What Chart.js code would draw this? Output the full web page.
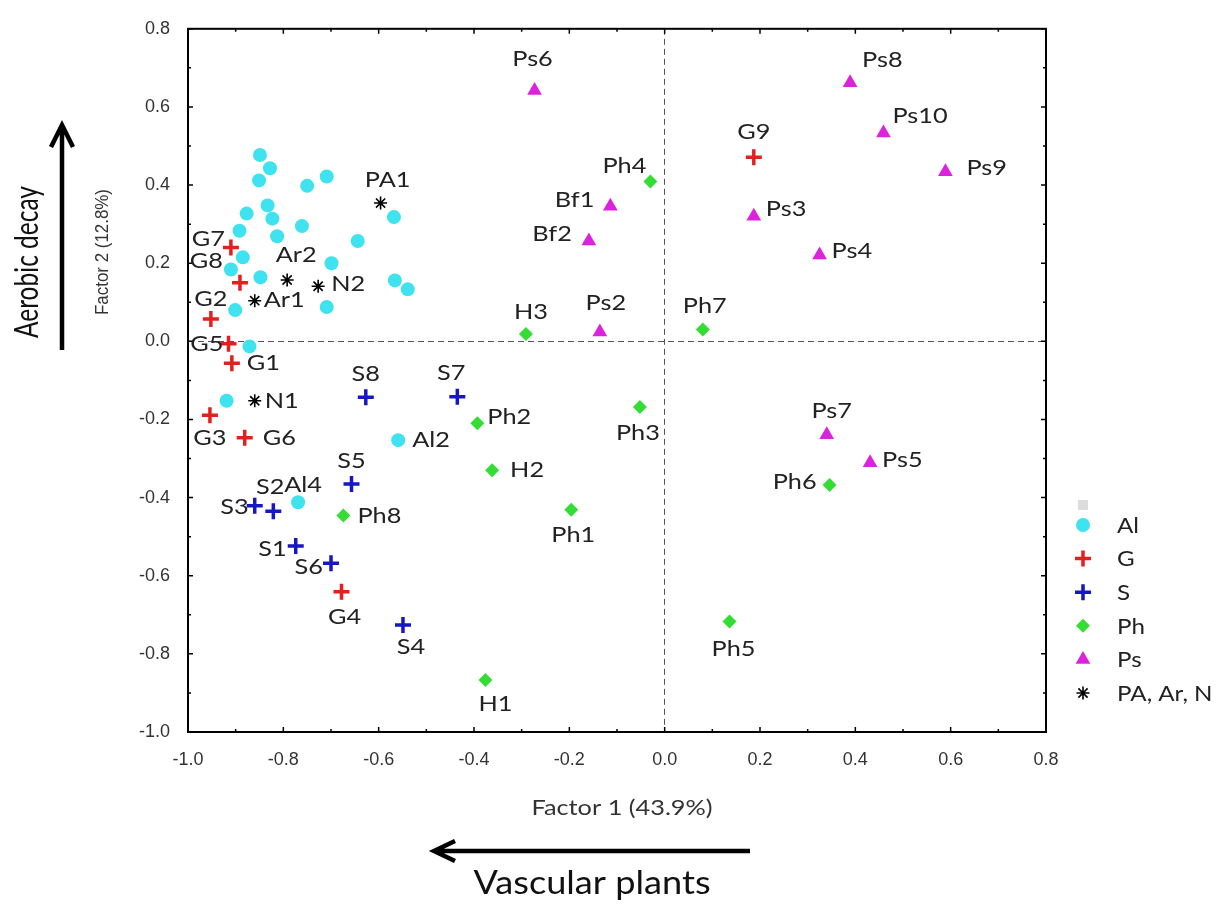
<!DOCTYPE html>
<html lang="en">
<head>
  <meta charset="UTF-8" />
  <title>Factor 1 vs Factor 2</title>
  <script src="https://cdn.jsdelivr.net/npm/chart.js"></script>
  <style>
    html, body { margin: 0; padding: 0; background: #fff; }
    #wrap { width: 1225px; height: 907px; position: relative; }
  </style>
</head>
<body>
<div id="wrap"><canvas id="pca"></canvas></div>
<script>
// axis ranges
const xRange = [-1.0, 0.8];
const yRange = [-1.0, 0.8];
const tickStep = 0.2;

// Al (only two are named)
const alNames = ['', '', '', '', '', '', '', '', '', '', '', '', '', '', '', '', '', '', '', '', '', '', '', 'Al2', 'Al4'];
const alX = [-0.849, -0.828, -0.851, -0.750, -0.709, -0.833, -0.877, -0.823, -0.761, -0.892, -0.813, -0.644, -0.568,
             -0.885, -0.699, -0.910, -0.848, -0.566, -0.539, -0.709, -0.901, -0.871, -0.919, -0.559, -0.769];
const alY = [0.477, 0.443, 0.412, 0.398, 0.422, 0.348, 0.327, 0.314, 0.295, 0.283, 0.269, 0.257, 0.318,
             0.215, 0.200, 0.184, 0.164, 0.156, 0.133, 0.088, 0.080, -0.013, -0.152, -0.253, -0.412];

// G
const gNames = ['G1', 'G2', 'G3', 'G4', 'G5', 'G6', 'G7', 'G8', 'G9'];
const gX = [-0.908, -0.952, -0.954, -0.678, -0.915, -0.881, -0.910, -0.891, 0.187];
const gY = [-0.056, 0.057, -0.189, -0.641, -0.006, -0.247, 0.240, 0.150, 0.471];

// S
const sNames = ['S1', 'S2', 'S3', 'S4', 'S5', 'S6', 'S7', 'S8'];
const sX = [-0.774, -0.821, -0.860, -0.549, -0.657, -0.700, -0.435, -0.627];
const sY = [-0.524, -0.435, -0.421, -0.726, -0.365, -0.568, -0.142, -0.143];

// Ph (with H)
const phNames = ['Ph1', 'Ph2', 'Ph3', 'Ph4', 'Ph5', 'Ph6', 'Ph7', 'Ph8', 'H1', 'H2', 'H3'];
const phX = [-0.196, -0.393, -0.052, -0.030, 0.136, 0.346, 0.080, -0.674, -0.376, -0.362, -0.291];
const phY = [-0.431, -0.210, -0.168, 0.409, -0.717, -0.368, 0.030, -0.446, -0.867, -0.330, 0.019];

// Ps (with Bf)
const psNames = ['Ps2', 'Ps3', 'Ps4', 'Ps5', 'Ps6', 'Ps7', 'Ps8', 'Ps9', 'Ps10', 'Bf1', 'Bf2'];
const psX = [-0.136, 0.187, 0.325, 0.431, -0.273, 0.340, 0.389, 0.589, 0.459, -0.114, -0.159];
const psY = [0.024, 0.320, 0.221, -0.311, 0.642, -0.239, 0.662, 0.434, 0.533, 0.346, 0.257];

// PA, Ar, N
const oNames = ['PA1', 'Ar1', 'Ar2', 'N1', 'N2'];
const oX = [-0.596, -0.860, -0.792, -0.860, -0.727];
const oY = [0.354, 0.104, 0.157, -0.152, 0.141];

// label placement: [align, dx, dy]  (l = text starts right of point, r = text ends left of point, c = centred)
const alPlace = alNames.map(n => n === 'Al2' ? ['l', 14, 0] : n === 'Al4' ? ['c', 5, -17] : null);
const gPlace = [['l', 15, 0], ['c', 0, -20], ['c', 0, 23], ['c', 3, 25], ['r', -5, 0], ['l', 18, 0], ['r', -6, -9], ['r', -17, -22], ['c', 0, -25]];
const sPlace = [['r', -9, 3], ['c', -3, -24], ['r', -6, 1], ['c', 8, 22], ['c', 0, -23], ['r', -8, 4], ['c', -6, -24], ['c', 0, -23]];
const phPlace = [['c', 2, 25], ['l', 10, -6], ['c', -2, 26], ['r', -4, -16], ['c', 4, 27], ['r', -13, -3], ['c', 2, -24], ['l', 14, 0], ['c', 10, 24], ['l', 18, 0], ['c', 5, -22]];
const psPlace = [['c', 6, -29], ['l', 12, -7], ['l', 12, -4], ['l', 12, -3], ['c', -2, -32], ['c', 5, -24], ['l', 12, -23], ['l', 21, -4], ['l', 9, -17], ['r', -16, -6], ['r', -17, -7]];
const oPlace = [['c', 7, -23], ['l', 9, -1], ['c', 9, -25], ['l', 10, 0], ['l', 13, -2]];

const pts = (xs, ys) => xs.map((x, i) => ({ x: x, y: ys[i] }));

const isZero = v => Math.abs(v) < 1e-9;
const fmt = v => isZero(v) ? '0.0' : v.toFixed(1);

// the source picture is a little wider than tall, so text is stretched sideways
const STRETCH = 1.15;
function wideText(ctx, text, x, y, align, sx) {
  ctx.save();
  ctx.translate(x, y);
  ctx.scale(sx || STRETCH, 1);
  ctx.textAlign = align;
  ctx.fillText(text, 0, 0);
  ctx.restore();
}

// names next to the points
const pointLabels = {
  id: 'pointLabels',
  afterDatasetsDraw(chart) {
    const ctx = chart.ctx;
    ctx.save();
    ctx.font = '22px Lato';
    ctx.fillStyle = '#222';
    ctx.textBaseline = 'middle';
    chart.data.datasets.forEach((ds, di) => {
      if (!ds.names) return;
      chart.getDatasetMeta(di).data.forEach((pt, i) => {
        const name = ds.names[i];
        const p = ds.place[i];
        if (!name || !p) return;
        const align = p[0] === 'l' ? 'left' : p[0] === 'r' ? 'right' : 'center';
        wideText(ctx, name, pt.x + p[1], pt.y + p[2], align);
      });
    });
    ctx.restore();
  }
};

// box round the plot with inward ticks on all four sides
const frame = {
  id: 'frame',
  beforeDatasetsDraw(chart) {
    const { ctx, chartArea: a, scales } = chart;
    ctx.save();
    ctx.strokeStyle = '#000';
    ctx.lineWidth = 2;
    ctx.strokeRect(a.left, a.top, a.right - a.left, a.bottom - a.top);
    ctx.lineWidth = 1.5;
    ctx.beginPath();
    for (let i = -10; i <= 8; i++) {
      const len = i % 2 === 0 ? 5 : 3;
      const px = scales.x.getPixelForValue(i / 10);
      const py = scales.y.getPixelForValue(i / 10);
      ctx.moveTo(px, a.bottom); ctx.lineTo(px, a.bottom - len);
      ctx.moveTo(px, a.top); ctx.lineTo(px, a.top + len);
      ctx.moveTo(a.left, py); ctx.lineTo(a.left + len, py);
      ctx.moveTo(a.right, py); ctx.lineTo(a.right - len, py);
    }
    ctx.stroke();
    ctx.restore();
  }
};

// legend on the right
const sideLegend = {
  id: 'sideLegend',
  afterDraw(chart) {
    const ctx = chart.ctx;
    const mx = 1083, tx = 1117;
    ctx.save();
    ctx.font = '21px Lato';
    ctx.textBaseline = 'middle';
    let y = 505;
    chart.data.datasets.forEach((ds, di) => {
      ctx.fillStyle = ds.backgroundColor;
      ctx.strokeStyle = ds.borderColor;
      ctx.lineWidth = ds.borderWidth;
      Chart.helpers.drawPoint(ctx, {
        pointStyle: ds.pointStyle,
        radius: ds.pointRadius,
        borderWidth: ds.borderWidth,
        rotation: 0
      }, mx, y);
      ctx.fillStyle = '#222';
      wideText(ctx, ds.label, tx, y + 1, 'left');
      y += di === 0 ? 20 : 33.6;
    });
    ctx.restore();
  }
};

// axis titles, big arrows and their captions
const captions = {
  id: 'captions',
  afterDraw(chart) {
    const ctx = chart.ctx;
    ctx.save();
    ctx.textBaseline = 'middle';
    ctx.fillStyle = '#333';

    ctx.font = '22px Lato';
    wideText(ctx, 'Factor 1 (43.9%)', 622, 808, 'center');

    ctx.save();
    ctx.translate(103, 252);
    ctx.rotate(-Math.PI / 2);
    ctx.font = '18px "Liberation Sans"';
    ctx.textAlign = 'center';
    ctx.fillText('Factor 2 (12.8%)', 0, 0, 126);
    ctx.restore();

    ctx.strokeStyle = '#000';
    ctx.fillStyle = '#111';
    ctx.lineWidth = 4.5;
    // vertical arrow
    ctx.beginPath();
    ctx.moveTo(62, 350); ctx.lineTo(62, 126);
    ctx.moveTo(51, 147); ctx.lineTo(62, 125); ctx.lineTo(73, 147);
    ctx.stroke();
    // horizontal arrow
    ctx.beginPath();
    ctx.moveTo(750, 851); ctx.lineTo(435, 851);
    ctx.moveTo(455, 841); ctx.lineTo(434, 851); ctx.lineTo(455, 861);
    ctx.stroke();

    ctx.font = '32px Lato';
    wideText(ctx, 'Vascular plants', 592, 884, 'center', 1.13);
    ctx.save();
    ctx.translate(28, 262);
    ctx.rotate(-Math.PI / 2);
    ctx.textAlign = 'center';
    ctx.fillText('Aerobic decay', 0, 0, 152);
    ctx.restore();
    ctx.restore();
  }
};

const zeroGrid = {
  drawTicks: false,
  lineWidth: 1,
  color: c => (c.tick && isZero(c.tick.value)) ? '#555' : 'rgba(0,0,0,0)'
};

new Chart(document.getElementById('pca'), {
  type: 'scatter',
  data: {
    datasets: [
      { label: '', data: [], pointStyle: 'rect', pointRadius: 7, backgroundColor: '#dcdcdc', borderColor: '#dcdcdc', borderWidth: 0 },
      { label: 'Al', data: pts(alX, alY), names: alNames, place: alPlace, pointStyle: 'circle', pointRadius: 7,
        backgroundColor: '#3fe2ef', borderColor: '#3fe2ef', borderWidth: 0 },
      { label: 'G', data: pts(gX, gY), names: gNames, place: gPlace, pointStyle: 'cross', pointRadius: 8,
        backgroundColor: '#e3201e', borderColor: '#e3201e', borderWidth: 3.5 },
      { label: 'S', data: pts(sX, sY), names: sNames, place: sPlace, pointStyle: 'cross', pointRadius: 8,
        backgroundColor: '#1616c4', borderColor: '#1616c4', borderWidth: 3.5 },
      { label: 'Ph', data: pts(phX, phY), names: phNames, place: phPlace, pointStyle: 'rectRot', pointRadius: 7,
        backgroundColor: '#33dd33', borderColor: '#33dd33', borderWidth: 0 },
      { label: 'Ps', data: pts(psX, psY), names: psNames, place: psPlace, pointStyle: 'triangle', pointRadius: 8.5,
        backgroundColor: '#dc22dc', borderColor: '#dc22dc', borderWidth: 0 },
      { label: 'PA, Ar, N', data: pts(oX, oY), names: oNames, place: oPlace, pointStyle: 'star', pointRadius: 6.5,
        backgroundColor: '#000', borderColor: '#000', borderWidth: 1.6 }
    ]
  },
  options: {
    responsive: true,
    maintainAspectRatio: false,
    animation: false,
    layout: { padding: { left: 0, right: 179, top: 19, bottom: 0 } },
    plugins: {
      legend: { display: false },
      tooltip: { enabled: false }
    },
    scales: {
      x: {
        type: 'linear',
        min: xRange[0],
        max: xRange[1],
        afterFit: s => { s.height = 175; },
        grid: zeroGrid,
        border: { display: false, dash: [6, 4] },
        ticks: {
          stepSize: tickStep,
          padding: 17,
          color: '#333',
          font: { family: 'Liberation Sans', size: 18 },
          maxRotation: 0,
          callback: v => fmt(v)
        }
      },
      y: {
        type: 'linear',
        min: yRange[0],
        max: yRange[1],
        afterFit: s => { s.width = 188; },
        grid: zeroGrid,
        border: { display: false, dash: [6, 4] },
        ticks: {
          stepSize: tickStep,
          padding: 18,
          color: '#333',
          font: { family: 'Liberation Sans', size: 18 },
          callback: v => fmt(v)
        }
      }
    }
  },
  plugins: [frame, pointLabels, sideLegend, captions]
});
</script>
</body>
</html>
